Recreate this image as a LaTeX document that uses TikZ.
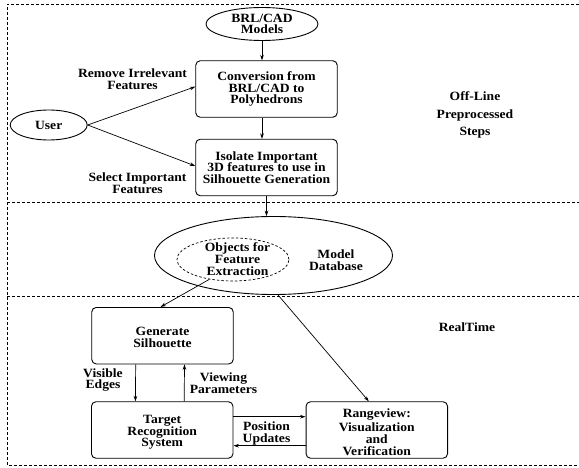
\documentclass[tikz,border=0pt]{standalone}
\usepackage{fontspec}
\setmainfont{Liberation Serif}[FakeStretch=1.08]
\usetikzlibrary{arrows.meta,shapes.geometric}
\begin{document}
\begin{tikzpicture}[x=1pt,y=-1pt,
  every node/.style={font=\fontsize{12.6}{11.7}\selectfont\bfseries, align=center, inner sep=0pt},
  box/.style={draw, rounded corners=4.5pt, line width=0.9pt, minimum width=141.5pt, minimum height=56.5pt},
  oval/.style={draw, ellipse, line width=0.9pt},
  arr/.style={-{Stealth[length=5.5pt,width=3.6pt]}, line width=0.7pt},
  frame/.style={dash pattern=on 3pt off 2pt, line width=0.7pt}
]
\useasboundingbox (0,0) rectangle (579,468);
% frame
\draw[frame] (579,4) -- (7,4) -- (7,465) -- (579,465);
\draw[frame] (7,202) -- (579,202);
\draw[frame] (7,296.7) -- (579,296.7);

% nodes
\node[oval, minimum width=112pt, minimum height=33pt] (brl) at (262,24) {BRL/CAD\\Models};
\node[box] (conv) at (266.5,89) {Conversion from\\BRL/CAD to\\Polyhedrons};
\node[box] (iso) at (266.5,167.5) {Isolate Important\\3D features to use in\\Silhouette Generation};
\node[oval, minimum width=77pt, minimum height=30pt] (user) at (48.7,125) {User};
\node (rem) at (132.5,79) {Remove Irrelevant\\Features};
\node (sel) at (137.5,183.5) {Select Important\\Features};
\node[font=\fontsize{12.6}{17.5}\selectfont\bfseries] (offline) at (475,115) {Off-Line\\Preprocessed\\Steps};

\node[oval, minimum width=238pt, minimum height=78pt] (db) at (273.5,255.5) {};
\node[draw, ellipse, dash pattern=on 2.5pt off 2pt, line width=0.7pt, minimum width=112pt, minimum height=43pt] (obj) at (233,259.5) {};
\node (objtext) at (237.5,259) {Objects for\\Feature\\Extraction};
\node (dbtext) at (336,260.5) {Model\\Database};

\node (realtime) at (467,327) {RealTime};
\node[box] (gen) at (162.5,335.7) {};
\node (gentext) at (162.5,337.5) {Generate\\Silhouette};
\node[box] (tgt) at (162.2,430) {};
\node (tgttext) at (162.2,432.5) {Target\\Recognition\\System};
\node[box] (rng) at (376.8,430) {};
\node (rngtext) at (376.8,432.5) {Rangeview:\\[2pt]Visualization\\and\\[0.5pt]Verification};
\node (vis) at (103,380) {Visible\\Edges};
\node (view) at (223.5,383) {Viewing\\Parameters};
\node (pos) at (266.5,433.5) {Position\\Updates};

% connectors
\draw[arr] (brl.south) -- (brl.south|-conv.north);
\draw[arr] (brl.south|-conv.south) -- (brl.south|-iso.north);
\draw[arr] (user.east) -- ([yshift=2.3pt]conv.west);
\draw[arr] (user.east) -- ([yshift=1.5pt]iso.west);
\draw[arr] (iso.south) -- (iso.south|-db.north);
\draw[arr] (obj.220) -- ([xshift=-2pt]gen.north);
\draw[arr] ([xshift=4.5pt]db.south) -- ([xshift=-8pt]rng.north);
\draw[arr] ([xshift=-26.8pt]gen.south) -- ([xshift=-26.8pt]tgt.north);
\draw[arr] ([xshift=22pt]tgt.north) -- ([xshift=22pt]gen.south);
\draw[arr] ([yshift=13.3pt]tgt.east) -- ([yshift=13.3pt]rng.west);
\draw[arr] ([yshift=-15.7pt]rng.west) -- ([yshift=-15.7pt]tgt.east);
\end{tikzpicture}
\end{document}
